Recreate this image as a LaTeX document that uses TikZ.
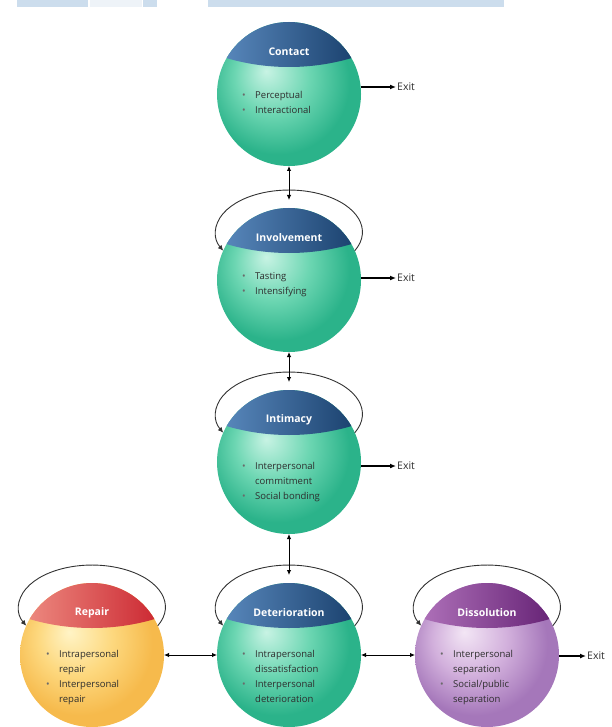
\documentclass[tikz,border=0pt]{standalone}
\usepackage{fontspec}
\setmainfont{Open Sans}
\usetikzlibrary{calc,arrows.meta}
\definecolor{gA}{HTML}{C8F3E4}
\definecolor{gB}{HTML}{6CD6B2}
\definecolor{gC}{HTML}{2BB38A}
\definecolor{yA}{HTML}{FFF4C6}
\definecolor{yB}{HTML}{FDD87E}
\definecolor{yC}{HTML}{F6BA4C}
\definecolor{pA}{HTML}{F3E6F5}
\definecolor{pB}{HTML}{D2B0DC}
\definecolor{pC}{HTML}{A577BA}
\definecolor{bA}{HTML}{5F8FC4}
\definecolor{bB}{HTML}{265B96}
\definecolor{bC}{HTML}{143A66}
\definecolor{rA}{HTML}{F09488}
\definecolor{rB}{HTML}{E25454}
\definecolor{rC}{HTML}{C81E2A}
\definecolor{vA}{HTML}{B679C0}
\definecolor{vB}{HTML}{8C4196}
\definecolor{vC}{HTML}{5E1A6E}
\definecolor{txt}{HTML}{2E2E2E}
\definecolor{bulc}{HTML}{6A6A6A}
\definecolor{loopc}{HTML}{333333}
\definecolor{band}{HTML}{CCDDED}
\definecolor{bandl}{HTML}{EEF3F8}
\pgfdeclareradialshading{greenball}{\pgfpoint{-8bp}{8bp}}{color(0bp)=(gA); color(13bp)=(gB); color(25bp)=(gC); color(50bp)=(gC)}
\pgfdeclareradialshading{yellowball}{\pgfpoint{-8bp}{8bp}}{color(0bp)=(yA); color(13bp)=(yB); color(25bp)=(yC); color(50bp)=(yC)}
\pgfdeclareradialshading{purpleball}{\pgfpoint{-8bp}{8bp}}{color(0bp)=(pA); color(13bp)=(pB); color(25bp)=(pC); color(50bp)=(pC)}
\tikzset{
  ball/.style={circle, minimum size=144pt, inner sep=0pt, outer sep=0pt},
  capblue/.style={left color=bA, middle color=bB, right color=bC},
  capred/.style={left color=rA, middle color=rB, right color=rC},
  cappurple/.style={left color=vA, middle color=vB, right color=vC},
  title/.style={text=white, font=\bfseries\fontsize{10.5}{12}\selectfont, inner sep=1pt},
  blist/.style={anchor=north west, inner sep=0pt, align=left, text=txt, font=\fontsize{9.5}{15}\selectfont},
  dbl/.style={{Latex[length=5pt,width=4.5pt]}-{Latex[length=5pt,width=4.5pt]}, line width=0.9pt, draw=black},
  exitarr/.style={-{Latex[length=6pt,width=5pt]}, line width=1.4pt, draw=black},
  exitlbl/.style={anchor=west, inner sep=1pt, font=\fontsize{10.5}{12}\selectfont, text=txt},
  loopy/.style={-{Latex[length=5.5pt,width=5pt]}, line width=0.9pt, draw=loopc},
}
\newcommand{\blt}{\makebox[13pt][l]{\textcolor{bulc}{\textbullet}}}
\newcommand{\ind}{\hspace*{13pt}}
\newcommand{\mkball}[6]{%
  \node[ball, shading=#4] (#1) at (#2,#3) {};
  \begin{scope}
    \clip (#1.center) circle[radius=72pt];
    \shade[#5] ($(#1.center)+(-80,-42)$) .. controls ($(#1.center)+(-30,-22)$) and ($(#1.center)+(30,-22)$) .. ($(#1.center)+(80,-42)$) -- ($(#1.center)+(80,-80)$) -- ($(#1.center)+(-80,-80)$) -- cycle;
  \end{scope}
  \node[title] (#1-title) at ($(#1.center)+(0,-42)$) {#6};
}
\newcommand{\mkloop}[1]{%
  \draw[loopy] (#1.24) arc[start angle=26.4, end angle=-206.4, x radius=73.4, y radius=42];
}
\begin{document}
\begin{tikzpicture}[x=1pt,y=-1pt]
\useasboundingbox (0,0) rectangle (611,727);
% header fragments
\fill[band] (17,0) rectangle (88,7);
\fill[bandl] (90,0) rectangle (142,7);
\fill[band] (143,0) rectangle (157,7);
\fill[band] (208,0) rectangle (504,7);
% spheres
\mkball{contact}{289}{94}{greenball}{capblue}{Contact}
\mkball{involvement}{289}{280}{greenball}{capblue}{Involvement}
\mkball{intimacy}{289}{462}{greenball}{capblue}{Intimacy}
\mkball{deterioration}{289}{655}{greenball}{capblue}{Deterioration}
\mkball{repair}{92}{655}{yellowball}{capred}{Repair}
\mkball{dissolution}{487}{655}{purpleball}{cappurple}{Dissolution}
% lists
\node[blist] (contact-list) at (242,91) {\blt Perceptual\\\blt Interactional};
\node[blist] (involvement-list) at (242,272) {\blt Tasting\\\blt Intensifying};
\node[blist] (intimacy-list) at (242,462) {\blt Interpersonal\\\ind commitment\\\blt Social bonding};
\node[blist] (deterioration-list) at (242,650) {\blt Intrapersonal\\\ind dissatisfaction\\\blt Interpersonal\\\ind deterioration};
\node[blist] (repair-list) at (46,650) {\blt Intrapersonal\\\ind repair\\\blt Interpersonal\\\ind repair};
\node[blist] (dissolution-list) at (440,650) {\blt Interpersonal\\\ind separation\\\blt Social/public\\\ind separation};
% loops
\mkloop{involvement}
\mkloop{intimacy}
\mkloop{deterioration}
\mkloop{repair}
\mkloop{dissolution}
% exits
\node[exitlbl] (exit1) at (396,87) {Exit};
\node[exitlbl] (exit2) at (396,278) {Exit};
\node[exitlbl] (exit3) at (396,466) {Exit};
\node[exitlbl] (exit4) at (586,656) {Exit};
\draw[exitarr] (contact.east |- exit1.west) -- (exit1.west);
\draw[exitarr] (involvement.east |- exit2.west) -- (exit2.west);
\draw[exitarr] (intimacy.east |- exit3.west) -- (exit3.west);
\draw[exitarr] (dissolution.east |- exit4.west) -- (exit4.west);
% vertical connectors
\draw[dbl, shorten >=8pt] (contact.south) -- (involvement.north);
\draw[dbl, shorten >=8pt] (involvement.south) -- (intimacy.north);
\draw[dbl, shorten >=8pt] (intimacy.south) -- (deterioration.north);
% horizontal connectors
\draw[dbl] (repair.east) -- (deterioration.west);
\draw[dbl] (deterioration.east) -- (dissolution.west);
\end{tikzpicture}
\end{document}
